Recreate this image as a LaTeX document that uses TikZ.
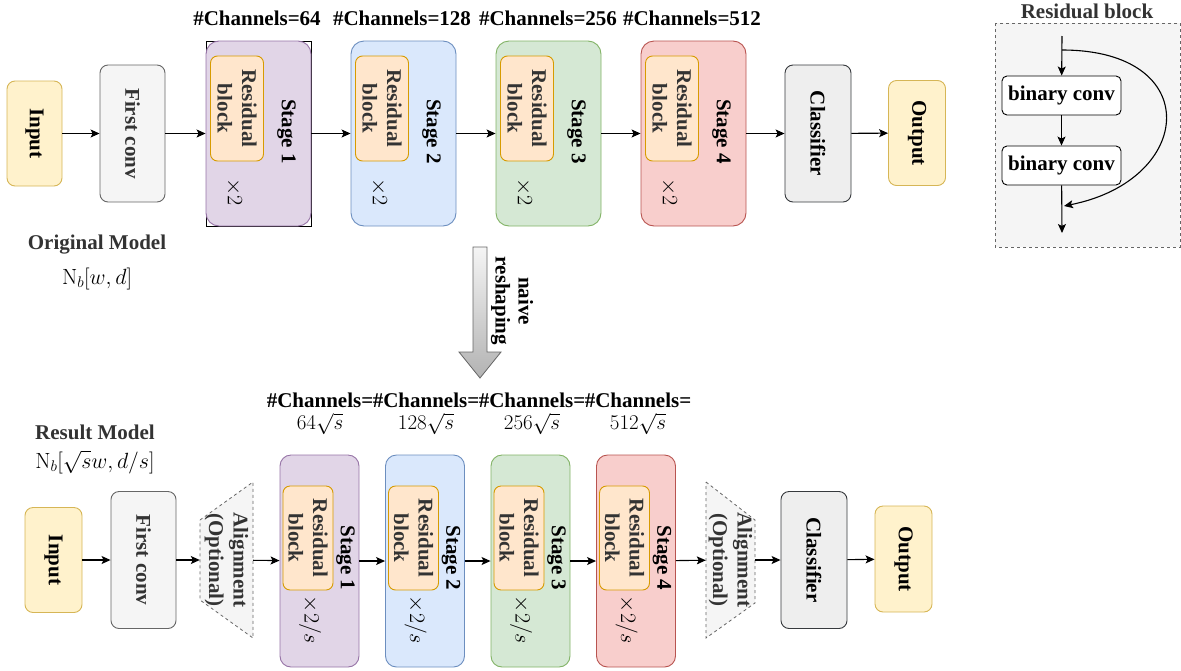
\RequirePackage{fix-cm}
\documentclass[tikz,border=0pt]{standalone}
\usepackage[no-math]{fontspec}
\setmainfont{Liberation Serif}
\usepackage{amsmath}
\usetikzlibrary{arrows.meta, calc}

\definecolor{ioFill}{HTML}{FFF2CC}
\definecolor{ioLine}{HTML}{D6B656}
\definecolor{convFill}{HTML}{F5F5F5}
\definecolor{convLine}{HTML}{666666}
\definecolor{txtGray}{HTML}{333333}
\definecolor{clsFill}{HTML}{EEEEEE}
\definecolor{clsLine}{HTML}{36393D}
\definecolor{resFill}{HTML}{FFE6CC}
\definecolor{resLine}{HTML}{D79B00}
\definecolor{purFill}{HTML}{E1D5E7}
\definecolor{purLine}{HTML}{9673A6}
\definecolor{bluFill}{HTML}{DAE8FC}
\definecolor{bluLine}{HTML}{6C8EBF}
\definecolor{grnFill}{HTML}{D5E8D4}
\definecolor{grnLine}{HTML}{82B366}
\definecolor{redFill}{HTML}{F8CECC}
\definecolor{redLine}{HTML}{B85450}

\newcommand{\lblfont}{\fontsize{21}{24.5}\selectfont}
\newcommand{\mathfont}{\fontsize{22}{26}\selectfont}

\begin{document}
\begin{tikzpicture}[
    x=1pt, y=-1pt,
    every node/.style={inner sep=1pt},
    blk/.style={draw, line width=0.9pt, rounded corners=8pt, rotate=-90, align=center, font=\lblfont\bfseries},
    io/.style={blk, fill=ioFill, draw=ioLine},
    firstc/.style={blk, fill=convFill, draw=convLine, text=txtGray},
    cls/.style={blk, fill=clsFill, draw=clsLine},
    stagebox/.style={draw, line width=0.9pt, rounded corners=13pt, rotate=-90},
    resblk/.style={draw=resLine, fill=resFill, line width=0.9pt, rounded corners=7pt, rotate=-90, align=center, font=\lblfont\bfseries, text=txtGray},
    stlabel/.style={rotate=-90, font=\lblfont\bfseries},
    reps/.style={rotate=-90, font=\mathfont},
    chan/.style={font=\fontsize{21}{22}\selectfont\bfseries, align=center, inner sep=0pt},
    title/.style={font=\lblfont\bfseries, text=txtGray},
    mlabel/.style={font=\mathfont},
    alignbox/.style={rotate=-90, align=center, font=\lblfont\bfseries, text=txtGray, minimum width=156},
    aligntrap/.style={draw=convLine, fill=convFill, dashed, line width=0.8pt},
    arr/.style={-{Stealth[length=9pt, width=8pt, inset=2pt]}, line width=1.1pt},
    bconv/.style={draw, fill=white, rounded corners=5pt, line width=0.9pt, minimum width=119, minimum height=39, font=\lblfont\bfseries},
    bigarrow/.style={draw=convLine, line width=0.8pt, top color=convFill, bottom color=black!30},
]
\useasboundingbox (0,0) rectangle (1181,670);

% ── Original model (top row) ──
\node[io, minimum width=105, minimum height=55] (in1) at (34.5,133.5) {Input};
\node[firstc, minimum width=137, minimum height=65] (fc1) at (132.5,133.5) {First conv};

\draw[line width=0.8pt] (206,41) rectangle (311,226);
\node[stagebox, fill=purFill, draw=purLine, minimum width=185, minimum height=105] (s1) at (258.5,133.5) {};
\node[resblk, minimum width=105, minimum height=53] (r1) at (237,108.5) {Residual\\block};
\node[stlabel] (st1) at (286.5,131.5) {Stage 1};
\node[reps] (x1) at (234,192) {$\times 2$};

\node[stagebox, fill=bluFill, draw=bluLine, minimum width=185, minimum height=105] (s2) at (403.5,133.5) {};
\node[resblk, minimum width=105, minimum height=53] (r2) at (382,108.5) {Residual\\block};
\node[stlabel] (st2) at (431.5,131.5) {Stage 2};
\node[reps] (x2) at (379,192) {$\times 2$};

\node[stagebox, fill=grnFill, draw=grnLine, minimum width=185, minimum height=105] (s3) at (548.5,133.5) {};
\node[resblk, minimum width=105, minimum height=53] (r3) at (527,108.5) {Residual\\block};
\node[stlabel] (st3) at (576.5,131.5) {Stage 3};
\node[reps] (x3) at (524,192) {$\times 2$};

\node[stagebox, fill=redFill, draw=redLine, minimum width=185, minimum height=105] (s4) at (693.5,133.5) {};
\node[resblk, minimum width=105, minimum height=53] (r4) at (672,108.5) {Residual\\block};
\node[stlabel] (st4) at (721.5,131.5) {Stage 4};
\node[reps] (x4) at (669,192) {$\times 2$};

\node[cls, minimum width=137, minimum height=66] (cls1) at (818,133.5) {Classifier};
\node[io, minimum width=105, minimum height=57] (out1) at (917,133) {Output};

\node[chan] (c1) at (257,18) {\#Channels=64};
\node[chan] (c2) at (402,18) {\#Channels=128};
\node[chan] (c3) at (548,18) {\#Channels=256};
\node[chan] (c4) at (692,18) {\#Channels=512};

\draw[arr] (in1) -- (fc1);
\draw[arr] (fc1) -- (s1);
\draw[arr] (s1) -- (s2);
\draw[arr] (s2) -- (s3);
\draw[arr] (s3) -- (s4);
\draw[arr] (s4) -- (cls1);
\draw[arr] (cls1) -- (out1);

\node[title] (om) at (97,245) {Original Model};
\node[mlabel] (omf) at (97,279) {$\mathrm{N}_b[w,d]$};

% ── Reshaping arrow ──
\draw[bigarrow] (473,247) -- (487,247) -- (487,352) -- (501,352) -- (480,378) -- (459,352) -- (473,352) -- cycle;
\node[stlabel, align=center, font=\fontsize{21}{23}\selectfont\bfseries] (rs) at (512,301) {naive\\reshaping};

% ── Result model (bottom row) ──
\node[title] (rm) at (95,432) {Result Model};
\node[mlabel] (rmf) at (95,462) {$\mathrm{N}_b[\sqrt{s}w, d/s]$};

\node[io, minimum width=105, minimum height=57] (in2) at (53.5,560) {Input};
\node[firstc, minimum width=137, minimum height=65] (fc2) at (143.5,560) {First conv};

\draw[aligntrap] (200,520) -- (253,482) -- (253,638) -- (200,600) -- cycle;
\node[alignbox, minimum height=53] (al1) at (226.5,560) {Alignment\\(Optional)};

\node[stagebox, fill=purFill, draw=purLine, minimum width=212, minimum height=79, rounded corners=11pt] (t1) at (319.5,561) {};
\node[resblk, minimum width=104, minimum height=50] (q1) at (308,538) {Residual\\block};
\node[stlabel] (su1) at (345.5,558) {Stage 1};
\node[reps] (y1) at (310,620) {$\times 2/s$};

\node[stagebox, fill=bluFill, draw=bluLine, minimum width=212, minimum height=79, rounded corners=11pt] (t2) at (425,561) {};
\node[resblk, minimum width=104, minimum height=50] (q2) at (413.5,538) {Residual\\block};
\node[stlabel] (su2) at (451,558) {Stage 2};
\node[reps] (y2) at (415.5,620) {$\times 2/s$};

\node[stagebox, fill=grnFill, draw=grnLine, minimum width=212, minimum height=79, rounded corners=11pt] (t3) at (530.5,561) {};
\node[resblk, minimum width=104, minimum height=50] (q3) at (519,538) {Residual\\block};
\node[stlabel] (su3) at (556.5,558) {Stage 3};
\node[reps] (y3) at (521,620) {$\times 2/s$};

\node[stagebox, fill=redFill, draw=redLine, minimum width=212, minimum height=79, rounded corners=11pt] (t4) at (636,561) {};
\node[resblk, minimum width=104, minimum height=50] (q4) at (624.5,538) {Residual\\block};
\node[stlabel] (su4) at (662,558) {Stage 4};
\node[reps] (y4) at (626.5,620) {$\times 2/s$};

\draw[aligntrap] (706,482) -- (755,520) -- (755,603) -- (706,638) -- cycle;
\node[alignbox, minimum height=49] (al2) at (730.5,560) {Alignment\\(Optional)};

\node[cls, minimum width=137, minimum height=66] (cls2) at (814,560) {Classifier};
\node[io, minimum width=106, minimum height=57] (out2) at (903.5,559) {Output};

\node[chan] (d1) at (320,414) {\#Channels=\\$64\sqrt{s}$};
\node[chan] (d2) at (426,414) {\#Channels=\\$128\sqrt{s}$};
\node[chan] (d3) at (532,414) {\#Channels=\\$256\sqrt{s}$};
\node[chan] (d4) at (638,414) {\#Channels=\\$512\sqrt{s}$};

\draw[arr] (in2) -- (fc2);
\draw[arr] (fc2) -- (al1);
\draw[arr] (al1) -- (t1);
\draw[arr] (t1) -- (t2);
\draw[arr] (t2) -- (t3);
\draw[arr] (t3) -- (t4);
\draw[arr] (t4) -- (al2);
\draw[arr] (al2) -- (cls2);
\draw[arr] (cls2) -- (out2);

% ── Residual block panel ──
\node[title] (rbt) at (1087,11) {Residual block};
\draw[dashed, draw=convLine, fill=convFill, line width=0.8pt] (995,23) rectangle (1180,247);
\node[bconv] (bc1) at (1061.5,95.5) {binary conv};
\node[bconv] (bc2) at (1061.5,165.5) {binary conv};
\coordinate (rin) at (1062,36);
\coordinate (rsplit) at (1062,50);
\coordinate (rmerge) at (1064,206);
\coordinate (rout) at (1062,233);

\draw[arr] (rin) -- (bc1);
\draw[arr] (bc1) -- (bc2);
\draw[arr] (bc2) -- (rout);
\draw[arr] (rsplit) .. controls (1205,50) and (1195,180) .. (rmerge);

\end{tikzpicture}
\end{document}
